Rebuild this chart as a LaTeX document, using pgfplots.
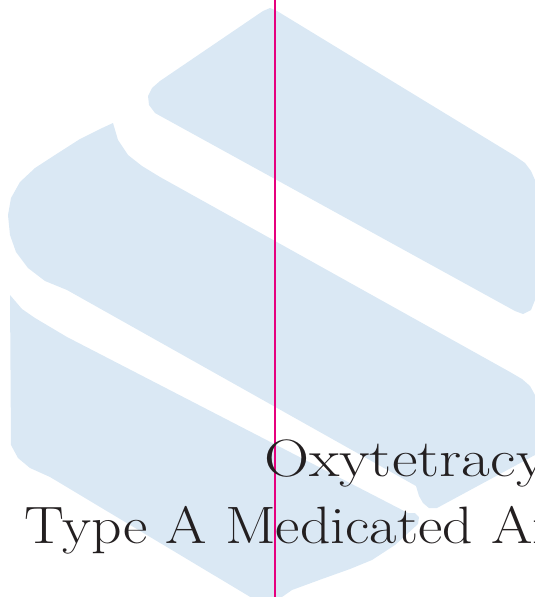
\documentclass[border=0pt]{standalone}
\usepackage{graphicx}
\usepackage{pgfplots}
\pgfplotsset{compat=1.18}
\definecolor{logoblue}{RGB}{218,232,244}
\definecolor{guide}{RGB}{230,0,126}
\definecolor{ink}{RGB}{35,31,32}
\begin{document}
\begin{tikzpicture}
\path[use as bounding box] (0,0) rectangle (535pt,597pt);
\clip (0,0) rectangle (535pt,597pt);
\begin{axis}[at={(0,0)}, anchor=south west, scale only axis, width=535pt, height=597pt,
  xmin=0, xmax=535, ymin=0, ymax=597, y dir=reverse, hide axis, clip=true]
% top-right band
\addplot[fill=logoblue, draw=none] coordinates {
 (270,8) (277,11) (515,156) (525,163) (531,171) (535,180) (535,300) (531,310) (523,314) (515,311)
 (164,118) (155,113) (149,105) (148,96) (152,88) (160,81) (263,11)} -- cycle;
% middle band
\addplot[fill=logoblue, draw=none] coordinates {
 (113,123) (118,140) (128,155) (142,166) (160,177) (275,241) (510,372) (522,379) (530,386) (535,395)
 (535,455) (437,508) (429,508) (423,503) (419,496) (416,486) (67,290) (45,281) (28,268) (16,252) (10,235)
 (8,215) (11,198) (20,182) (35,168) (55,155) (80,139) (100,129)} -- cycle;
% bottom-left band
\addplot[fill=logoblue, draw=none] coordinates {
 (10,295) (22,309) (35,318) (67,337) (408,513) (415,513) (419,517) (418,524) (395,545) (372,560) (350,569)
 (322,579) (292,590) (272,604) (262,604) (50,477) (30,468) (18,458) (11,445)} -- cycle;
% guide line
\addplot[guide, line width=1.6pt] coordinates {(275,0) (275,597)};
\node[anchor=base west, font=\fontsize{52.6}{60}\selectfont, text=ink, inner sep=0pt] at (axis cs:264,476) {\scalebox{1.19}[1]{Oxytetracycline}};
\node[anchor=base west, font=\fontsize{52.6}{60}\selectfont, text=ink, inner sep=0pt] at (axis cs:24,543) {\scalebox{1.135}[1]{Type A Medicated Article}};
\end{axis}
\end{tikzpicture}
\end{document}
